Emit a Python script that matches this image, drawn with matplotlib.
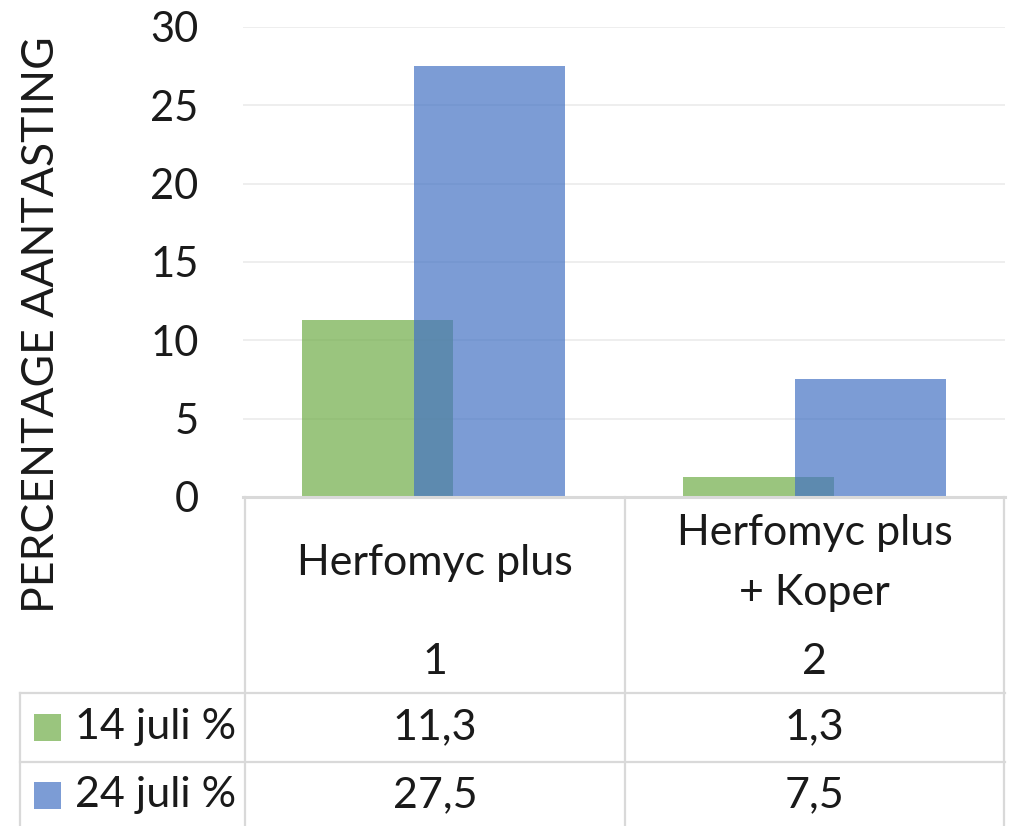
import matplotlib
matplotlib.use("Agg")
import matplotlib.pyplot as plt
import numpy as np

plt.rcParams['font.family'] = ['Lato', 'DejaVu Sans']

categories = ["Herfomyc plus", "Herfomyc plus\n+ Koper"]
category_numbers = ["1", "2"]
series_names = ["14 juli %", "24 juli %"]
series_values = [[11.3, 1.3], [27.5, 7.5]]
value_labels = [["11,3", "1,3"], ["27,5", "7,5"]]
yticks = [0, 5, 10, 15, 20, 25, 30]
ylabel = "PERCENTAGE AANTASTING"

colors = ["#70AD47", "#4472C4"]
W, H = 1010, 826
fig = plt.figure(figsize=(W / 100, H / 100), dpi=100)

# plot axes in pixel positions
x0, x1, ytop, ybot = 243, 1005, 27, 497
ax = fig.add_axes([x0 / W, 1 - ybot / H, (x1 - x0) / W, (ybot - ytop) / H])
ax.set_xlim(-0.5, 1.5)
ax.set_ylim(0, 30)
x = np.arange(len(categories))
offsets = [-0.147, 0.147]
for i, vals in enumerate(series_values):
    ax.bar(x + offsets[i], vals, width=0.394, color=colors[i], alpha=0.7, zorder=3, linewidth=0)
ax.set_yticks(yticks)
ax.set_yticklabels([str(t) for t in yticks], fontsize=30, color="#1a1a1a")
ax.tick_params(axis="y", length=0, pad=32)
ax.set_xticks([])
ax.grid(axis="y", color="#EBEBEB", linewidth=1.2, zorder=0)
for s in ["top", "right", "left", "bottom"]:
    ax.spines[s].set_visible(False)

# overlay in pixel coordinates for the data table
ov = fig.add_axes([0, 0, 1, 1], facecolor="none")
ov.set_xlim(0, W)
ov.set_ylim(H, 0)
ov.axis("off")
lc = "#D9D9D9"
lw = 1.6
col_edges = [245, 625, 1004]
row_top, hdr_bot, r1_bot = 497, 693, 762
ov.plot([243, 1005], [row_top, row_top], color=lc, lw=2.2)
for xe in col_edges:
    ov.plot([xe, xe], [row_top, H], color=lc, lw=lw)
ov.plot([20, 20], [hdr_bot, H], color=lc, lw=lw)
ov.plot([20, 1005], [hdr_bot, hdr_bot], color=lc, lw=lw)
ov.plot([20, 1005], [r1_bot, r1_bot], color=lc, lw=lw)

fs = 31
tc = "#1a1a1a"
for j, cat in enumerate(categories):
    cx = (col_edges[j] + col_edges[j + 1]) / 2
    ov.text(cx, 563, cat, ha="center", va="center", fontsize=fs, color=tc, linespacing=1.68)
    ov.text(cx, 662, category_numbers[j], ha="center", va="center", fontsize=fs, color=tc)
row_centers = [727, 795]
for i, name in enumerate(series_names):
    yc = row_centers[i]
    ov.add_patch(plt.Rectangle((34, yc - 13), 27, 27, color=colors[i], alpha=0.7, lw=0))
    ov.text(75, yc, name, ha="left", va="center", fontsize=fs, color=tc)
    for j in range(len(categories)):
        cx = (col_edges[j] + col_edges[j + 1]) / 2
        ov.text(cx, yc, value_labels[i][j], ha="center", va="center", fontsize=fs, color=tc)

ov.text(42, 325, ylabel, rotation=90, ha="center", va="center", fontsize=32, color=tc)

fig.savefig("out.png", dpi=100)
